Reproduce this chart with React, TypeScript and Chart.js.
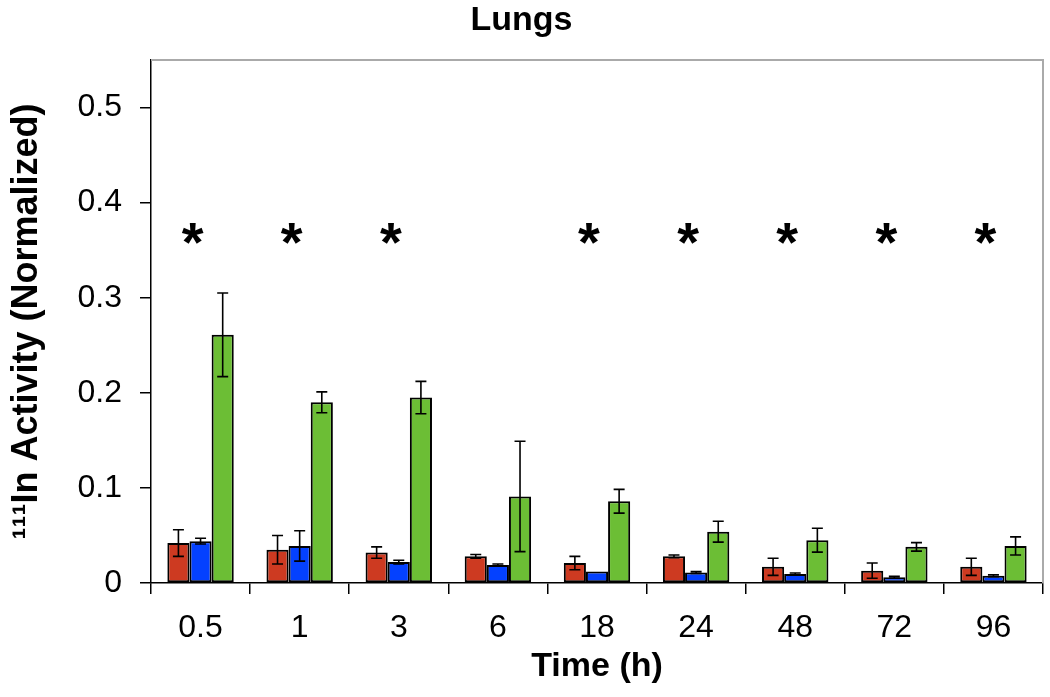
import React, { useEffect, useRef } from "react";
import { Chart, registerables } from "chart.js";

Chart.register(...registerables);

const categories = ["0.5", "1", "3", "6", "18", "24", "48", "72", "96"];
const redValues = [0.042, 0.035, 0.032, 0.028, 0.021, 0.028, 0.017, 0.013, 0.017];
const redErrors = [0.014, 0.015, 0.006, 0.002, 0.007, 0.0015, 0.009, 0.008, 0.009];
const blueValues = [0.044, 0.039, 0.022, 0.019, 0.012, 0.011, 0.0095, 0.006, 0.0075];
const blueErrors = [0.003, 0.016, 0.002, 0.001, 0, 0.001, 0.001, 0.001, 0.001];
const greenValues = [0.261, 0.19, 0.195, 0.091, 0.086, 0.054, 0.045, 0.038, 0.039];
const greenErrors = [0.044, 0.011, 0.017, 0.058, 0.0125, 0.011, 0.0125, 0.0045, 0.0095];
const significance = ["*", "*", "*", "", "*", "*", "*", "*", "*"];
const significanceLevel = 0.373;
const yTicks = [0, 0.1, 0.2, 0.3, 0.4, 0.5];

const errorSets = [redErrors, blueErrors, greenErrors];
const FONT = '"Liberation Sans", Arial, Helvetica, sans-serif';

const errorBarPlugin = {
  id: "errorBars",
  afterDatasetsDraw(chart: any) {
    const ctx = chart.ctx;
    const yScale = chart.scales.y;
    ctx.save();
    ctx.strokeStyle = "#000";
    ctx.lineWidth = 1.6;
    chart.data.datasets.forEach((ds: any, di: number) => {
      const meta = chart.getDatasetMeta(di);
      const errs = errorSets[di];
      meta.data.forEach((bar: any, i: number) => {
        const v = ds.data[i];
        const e = errs[i];
        if (!e) return;
        const x = bar.x;
        const top = yScale.getPixelForValue(v + e);
        const bot = yScale.getPixelForValue(Math.max(v - e, 0));
        const cap = 5.5;
        ctx.beginPath();
        ctx.moveTo(x, top);
        ctx.lineTo(x, bot);
        ctx.moveTo(x - cap, top);
        ctx.lineTo(x + cap, top);
        ctx.moveTo(x - cap, bot);
        ctx.lineTo(x + cap, bot);
        ctx.stroke();
      });
    });
    ctx.restore();
  },
};

const framePlugin = {
  id: "frame",
  beforeDatasetsDraw(chart: any) {
    const { ctx, chartArea } = chart;
    ctx.save();
    ctx.strokeStyle = "#aaaaaa";
    ctx.lineWidth = 2;
    ctx.beginPath();
    ctx.moveTo(chartArea.left, chartArea.top);
    ctx.lineTo(chartArea.right, chartArea.top);
    ctx.lineTo(chartArea.right, chartArea.bottom);
    ctx.stroke();
    ctx.restore();
  },
};

const asteriskPlugin = {
  id: "asterisks",
  afterDatasetsDraw(chart: any) {
    const ctx = chart.ctx;
    const xScale = chart.scales.x;
    const yScale = chart.scales.y;
    const size = 56;
    ctx.save();
    ctx.fillStyle = "#000";
    ctx.font = `bold ${size}px ${FONT}`;
    ctx.textAlign = "center";
    ctx.textBaseline = "alphabetic";
    significance.forEach((s, i) => {
      if (!s) return;
      const x = xScale.getPixelForValue(i) - 8;
      const y = yScale.getPixelForValue(significanceLevel) + size * 0.575;
      ctx.fillText(s, x, y);
    });
    ctx.restore();
  },
};

export default function App() {
  const canvasRef = useRef<HTMLCanvasElement | null>(null);

  useEffect(() => {
    document.body.style.margin = "0";
    const canvas = canvasRef.current;
    if (!canvas) return;
    Chart.defaults.font.family = FONT;
    Chart.defaults.color = "#000";

    const barStyle = { borderColor: "#000", borderWidth: 2, borderSkipped: false as any };

    const chart = new Chart(canvas, {
      type: "bar",
      data: {
        labels: categories,
        datasets: [
          { label: "Red", data: redValues, backgroundColor: "#CD3A21", ...barStyle },
          { label: "Blue", data: blueValues, backgroundColor: "#0441FF", ...barStyle },
          { label: "Green", data: greenValues, backgroundColor: "#6CBE35", ...barStyle },
        ],
      },
      options: {
        animation: false,
        responsive: true,
        maintainAspectRatio: false,
        devicePixelRatio: 1,
        layout: { padding: { left: 0, right: 7, top: 0, bottom: 0 } },
        datasets: {
          bar: { categoryPercentage: 0.67, barPercentage: 1 },
        },
        plugins: {
          legend: { display: false },
          tooltip: { enabled: false },
          title: {
            display: true,
            text: "Lungs",
            font: { size: 34, weight: "bold", family: FONT },
            color: "#000",
            padding: { top: 0, bottom: 19.2 },
          },
        },
        scales: {
          x: {
            type: "category",
            afterFit(scale: any) {
              scale.height = 114;
            },
            grid: {
              display: true,
              offset: true,
              drawOnChartArea: false,
              drawTicks: true,
              tickLength: 11,
              color: "#000",
              lineWidth: 1.5,
            },
            border: { display: true, color: "#000", width: 1.5 },
            ticks: {
              font: { size: 32, family: FONT },
              color: "#000",
              padding: 15,
              maxRotation: 0,
            },
            title: {
              display: true,
              text: "Time (h)",
              font: { size: 34, weight: "bold", family: FONT },
              color: "#000",
              padding: { top: 0, bottom: 10 },
            },
          },
          y: {
            type: "linear",
            min: 0,
            max: 0.55,
            afterFit(scale: any) {
              scale.width = 151;
            },
            afterBuildTicks(scale: any) {
              scale.ticks = yTicks.map((v) => ({ value: v }));
            },
            grid: {
              display: true,
              drawOnChartArea: false,
              drawTicks: true,
              tickLength: 11,
              color: "#000",
              lineWidth: 1.5,
            },
            border: { display: true, color: "#000", width: 1.5 },
            ticks: {
              font: { size: 32, family: FONT },
              color: "#000",
              padding: 18,
              callback: (v: any) => String(Math.round(Number(v) * 10) / 10),
            },
            title: {
              display: true,
              text: "\u00B9\u00B9\u00B9In Activity (Normalized)",
              font: { size: 36, weight: "bold", family: FONT },
              color: "#000",
              padding: { top: 5, bottom: 0 },
            },
          },
        },
      },
      plugins: [framePlugin, errorBarPlugin, asteriskPlugin],
    });

    return () => chart.destroy();
  }, []);

  return (
    <div style={{ width: 1050, height: 697, position: "relative" }}>
      <canvas ref={canvasRef} />
    </div>
  );
}
